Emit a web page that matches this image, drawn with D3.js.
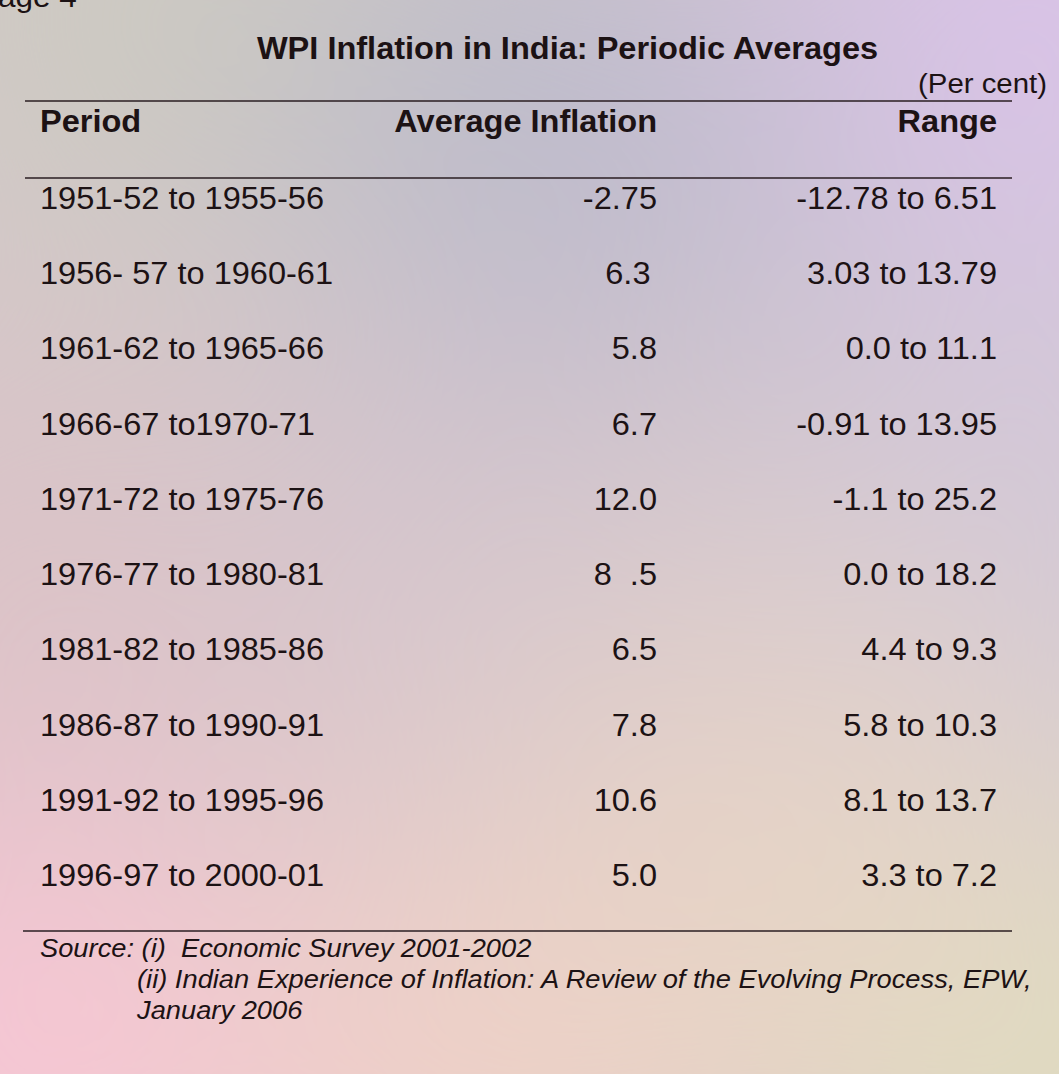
<!DOCTYPE html>
<html><head><meta charset="utf-8">
<script src="https://cdn.jsdelivr.net/npm/d3@7"></script>
<style>html,body{margin:0;padding:0;overflow:hidden;background:#d0c8d0}</style>
</head><body>
<script>
const title = "WPI Inflation in India: Periodic Averages";
const unitLabel = "(Per cent)";
const headers = ["Period", "Average Inflation", "Range"];
const periods = ["1951-52 to 1955-56","1956- 57 to 1960-61","1961-62 to 1965-66","1966-67 to1970-71","1971-72 to 1975-76","1976-77 to 1980-81","1981-82 to 1985-86","1986-87 to 1990-91","1991-92 to 1995-96","1996-97 to 2000-01"];
const avgInflation = [-2.75, 6.3, 5.8, 6.7, 12.0, 8.5, 6.5, 7.8, 10.6, 5.0];
const avgLabels = ["-2.75","6.3\u2009","5.8","6.7","12.0","8  .5","6.5","7.8","10.6","5.0"];
const rangeLow = [-12.78, 3.03, 0.0, -0.91, -1.1, 0.0, 4.4, 5.8, 8.1, 3.3];
const rangeHigh = [6.51, 13.79, 11.1, 13.95, 25.2, 18.2, 9.3, 10.3, 13.7, 7.2];
const rangeLabels = ["-12.78 to 6.51","3.03 to 13.79","0.0 to 11.1","-0.91 to 13.95","-1.1 to 25.2","0.0 to 18.2","4.4 to 9.3","5.8 to 10.3","8.1 to 13.7","3.3 to 7.2"];
const sourceLines = ["Source: (i)  Economic Survey 2001-2002","(ii) Indian Experience of Inflation: A Review of the Evolving Process, EPW,","January 2006"];

const W = 1059, H = 1074;
const svg = d3.select("body").append("svg").attr("width", W).attr("height", H);
const defs = svg.append("defs");
const f = defs.append("filter").attr("id","blur").attr("x","-50%").attr("y","-50%").attr("width","200%").attr("height","200%");
f.append("feGaussianBlur").attr("stdDeviation", 160);

// background wash
const blobs = [
  {x:150,y:0,c:"#cccbbf"},{x:1059,y:0,c:"#dac2ec"},{x:550,y:150,c:"#bab9cb"},
  {x:0,y:600,c:"#dcc2c6"},{x:1059,y:500,c:"#d2c8d8"},{x:500,y:600,c:"#d6c6ce"},
  {x:0,y:1074,c:"#fcc6d6"},{x:500,y:1074,c:"#f2d2c6"},{x:1059,y:1074,c:"#e0e0bc"},{x:800,y:850,c:"#e6d4c6"}
];
svg.append("rect").attr("width",W).attr("height",H).attr("fill","#d4c8cc");
const bg = svg.append("g").attr("filter","url(#blur)");
bg.selectAll("circle").data(blobs).join("circle").attr("cx",d=>d.x).attr("cy",d=>d.y).attr("r",260).attr("fill",d=>d.c);

const ink = "#1c1214";
const font = "'Liberation Sans', Arial, sans-serif";
const SX = 1.05; // horizontal stretch of the source typography
const rowY = d3.scalePoint().domain(d3.range(periods.length)).range([209, 886]);
const colX = {period:40, avg:657, range:997};

const g = svg.append("g").attr("font-family", font).attr("fill", ink);
function put(sel, x, y) { return sel.attr("transform", `translate(${x},${y}) scale(${SX},1)`); }

put(g.append("text").attr("font-size",30).style("white-space","pre").text("Page 4"), -23, 7);
put(g.append("text").attr("text-anchor","middle").attr("font-size",31).attr("font-weight","bold").text(title), 567.5, 59);
put(g.append("text").attr("text-anchor","end").attr("font-size",28).text(unitLabel), 1047, 93);

const lines = [{y:101,x1:25,x2:1012},{y:178,x1:25,x2:1012},{y:931,x1:23,x2:1012}];
svg.selectAll("line.rule").data(lines).join("line").attr("class","rule")
  .attr("x1",d=>d.x1).attr("x2",d=>d.x2).attr("y1",d=>d.y).attr("y2",d=>d.y)
  .attr("stroke","#2a1e22").attr("stroke-width",1.6);

const hx = [colX.period, colX.avg, colX.range], ha = ["start","end","end"];
g.selectAll("text.h").data(headers).join("text").attr("class","h")
  .attr("transform",(d,i)=>`translate(${hx[i]},132) scale(${SX},1)`).attr("text-anchor",(d,i)=>ha[i])
  .attr("font-size",31).attr("font-weight","bold").text(d=>d);

const rows = g.selectAll("g.row").data(periods.map((p,i)=>({p, a:avgLabels[i], r:rangeLabels[i], i})))
  .join("g").attr("class","row").attr("font-size",31);
rows.append("text").attr("transform",d=>`translate(${colX.period},${rowY(d.i)}) scale(${SX},1)`).text(d=>d.p);
rows.append("text").attr("transform",d=>`translate(${colX.avg},${rowY(d.i)}) scale(${SX},1)`).attr("text-anchor","end").style("white-space","pre").text(d=>d.a);
rows.append("text").attr("transform",d=>`translate(${colX.range},${rowY(d.i)}) scale(${SX},1)`).attr("text-anchor","end").text(d=>d.r);

const src = g.append("g").attr("font-size",26).attr("font-style","italic");
put(src.append("text").style("white-space","pre").text(sourceLines[0]), 40, 957);
put(src.append("text").text(sourceLines[1]), 137, 988);
put(src.append("text").text(sourceLines[2]), 137, 1019);
</script>
</body></html>
